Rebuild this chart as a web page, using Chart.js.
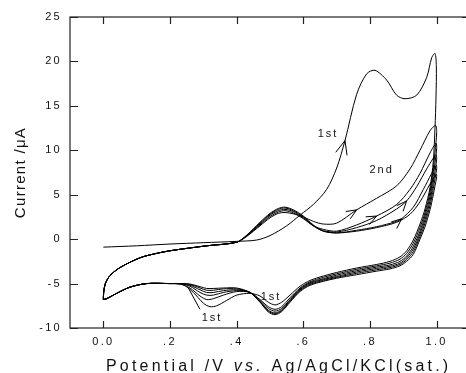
<!DOCTYPE html>
<html>
<head>
<meta charset="utf-8">
<script src="https://cdn.jsdelivr.net/npm/chart.js@4"></script>
<style>
html, body { margin: 0; padding: 0; background: #fff; overflow: hidden; }
#cv { display: block; }
</style>
</head>
<body>
<canvas id="cv" width="478" height="373"></canvas>
<script>
const FONT = '"Liberation Sans", Arial, sans-serif';

// axis ticks
let xTicks = [0, 0.2, 0.4, 0.6, 0.8, 1.0];
let xTickText = ['0.0', '.2', '.4', '.6', '.8', '1.0'];
let yTicks = [-10, -5, 0, 5, 10, 15, 20, 25];

// cycle 1: forward sweep from 0.0 V, then back
let c1V = [0.00, 0.10, 0.20, 0.30, 0.40, 0.46, 0.50, 0.55, 0.59, 0.63, 0.67, 0.70, 0.725, 0.76, 0.79, 0.815, 0.85, 0.88, 0.905, 0.94, 0.97, 0.985, 0.995,
    0.999, 0.998, 0.995, 0.99, 0.98, 0.965, 0.95, 0.93, 0.91, 0.89, 0.86, 0.82, 0.76, 0.70, 0.66, 0.62, 0.59, 0.56, 0.535, 0.515, 0.495, 0.47, 0.44, 0.40, 0.37, 0.34, 0.32, 0.30, 0.27, 0.24, 0.20, 0.13, 0.08, 0.04, 0.01, 0.0];
let c1I = [-0.9, -0.75, -0.55, -0.4, -0.25, -0.1, 0.4, 1.5, 2.7, 3.9, 5.6, 8.0, 11.1, 16.3, 18.6, 19.0, 17.9, 16.2, 15.8, 16.2, 18.2, 20.4, 20.9,
    19.5, 16.0, 12.5, 8.8, 5.8, 3.4, 1.7, -0.1, -1.3, -2.0, -2.5, -2.85, -3.25, -3.75, -4.15, -4.65, -5.3, -6.3, -7.1, -7.4, -7.1, -6.4, -6.1, -6.3, -6.9, -7.5, -7.6, -7.2, -6.0, -5.15, -5.0, -5.0, -5.4, -6.1, -6.7, -6.8];

// cycle 2
let c2V = [0.0, 0.001, 0.006, 0.02, 0.05, 0.11, 0.16, 0.21, 0.31, 0.40, 0.43, 0.47, 0.50, 0.525, 0.545, 0.57, 0.60, 0.63, 0.66, 0.70, 0.76, 0.82, 0.88, 0.92, 0.95, 0.98, 0.997,
    1.0, 0.995, 0.99, 0.98, 0.965, 0.95, 0.93, 0.91, 0.89, 0.86, 0.82, 0.76, 0.70, 0.66, 0.62, 0.59, 0.56, 0.535, 0.515, 0.495, 0.47, 0.44, 0.40, 0.36, 0.33, 0.31, 0.29, 0.26, 0.23, 0.20, 0.13, 0.08, 0.04, 0.01, 0.0];
let c2I = [-6.8, -6.0, -5.0, -4.1, -3.2, -2.1, -1.6, -1.25, -0.75, -0.35, 0.3, 1.5, 2.4, 2.9, 3.0, 2.85, 2.5, 2.0, 1.7, 1.8, 3.3, 4.6, 6.0, 7.9, 10.0, 12.2, 12.8,
    12.0, 9.8, 8.0, 5.3, 3.0, 1.3, -0.45, -1.6, -2.25, -2.7, -3.0, -3.4, -3.9, -4.3, -4.8, -5.5, -6.6, -7.6, -7.9, -7.6, -6.8, -6.0, -5.9, -6.3, -6.7, -6.8, -6.4, -5.5, -5.05, -5.0, -5.0, -5.4, -6.1, -6.7, -6.8];

// cycle 3
let c3V = [0.0, 0.001, 0.006, 0.02, 0.05, 0.11, 0.16, 0.21, 0.31, 0.40, 0.43, 0.47, 0.50, 0.525, 0.545, 0.57, 0.60, 0.63, 0.66, 0.70, 0.76, 0.82, 0.88, 0.92, 0.95, 0.98, 0.998,
    1.0, 0.995, 0.99, 0.98, 0.965, 0.95, 0.93, 0.91, 0.89, 0.86, 0.82, 0.76, 0.70, 0.66, 0.62, 0.59, 0.56, 0.535, 0.515, 0.495, 0.47, 0.44, 0.40, 0.36, 0.33, 0.31, 0.29, 0.26, 0.23, 0.20, 0.13, 0.08, 0.04, 0.01, 0.0];
let c3I = [-6.8, -6.0, -5.0, -4.1, -3.2, -2.1, -1.6, -1.25, -0.75, -0.35, 0.35, 1.6, 2.55, 3.05, 3.2, 2.95, 2.3, 1.5, 1.1, 0.9, 1.6, 2.6, 3.9, 5.6, 7.4, 9.7, 10.8,
    10.2, 8.6, 7.2, 4.8, 2.6, 0.9, -0.8, -1.9, -2.5, -2.9, -3.15, -3.55, -4.05, -4.45, -4.9, -5.6, -6.8, -7.8, -8.1, -7.8, -6.9, -6.0, -5.8, -6.0, -6.3, -6.3, -6.0, -5.3, -5.0, -5.0, -5.0, -5.4, -6.1, -6.7, -6.8];

// cycle 4
let c4V = [0.0, 0.001, 0.006, 0.02, 0.05, 0.11, 0.16, 0.21, 0.31, 0.40, 0.43, 0.47, 0.50, 0.525, 0.545, 0.57, 0.60, 0.63, 0.66, 0.70, 0.76, 0.82, 0.88, 0.91, 0.94, 0.97, 0.998,
    1.0, 0.995, 0.99, 0.98, 0.965, 0.95, 0.93, 0.91, 0.89, 0.86, 0.82, 0.76, 0.70, 0.66, 0.62, 0.59, 0.56, 0.535, 0.515, 0.495, 0.47, 0.44, 0.40, 0.36, 0.33, 0.31, 0.29, 0.26, 0.23, 0.20, 0.13, 0.08, 0.04, 0.01, 0.0];
let c4I = [-6.8, -6.0, -5.0, -4.1, -3.2, -2.1, -1.6, -1.25, -0.75, -0.35, 0.4, 1.7, 2.7, 3.2, 3.35, 3.1, 2.4, 1.5, 0.95, 0.8, 1.3, 2.1, 3.4, 4.3, 5.9, 7.9, 9.5,
    9.0, 7.6, 6.4, 4.3, 2.2, 0.6, -1.1, -2.1, -2.7, -3.05, -3.3, -3.7, -4.2, -4.55, -5.0, -5.7, -6.9, -7.95, -8.3, -8.0, -7.0, -6.0, -5.7, -5.8, -6.0, -6.0, -5.7, -5.2, -5.0, -5.0, -5.0, -5.4, -6.1, -6.7, -6.8];

// cycle 5
let c5V = [0.0, 0.001, 0.006, 0.02, 0.05, 0.11, 0.16, 0.21, 0.31, 0.40, 0.43, 0.47, 0.50, 0.525, 0.545, 0.57, 0.60, 0.63, 0.66, 0.70, 0.76, 0.82, 0.88, 0.895, 0.93, 0.96, 0.985, 0.999,
    1.0, 0.995, 0.99, 0.98, 0.965, 0.95, 0.93, 0.91, 0.89, 0.86, 0.82, 0.76, 0.70, 0.66, 0.62, 0.59, 0.56, 0.535, 0.515, 0.495, 0.47, 0.44, 0.40, 0.36, 0.33, 0.31, 0.29, 0.26, 0.23, 0.20, 0.13, 0.08, 0.04, 0.01, 0.0];
let c5I = [-6.8, -6.0, -5.0, -4.1, -3.2, -2.1, -1.6, -1.25, -0.75, -0.35, 0.4, 1.8, 2.8, 3.35, 3.5, 3.2, 2.5, 1.5, 0.9, 0.7, 1.0, 1.4, 2.0, 2.3, 3.6, 5.6, 7.4, 8.3,
    7.9, 6.8, 5.7, 3.8, 1.8, 0.3, -1.4, -2.3, -2.85, -3.2, -3.45, -3.85, -4.3, -4.65, -5.1, -5.8, -7.0, -8.05, -8.4, -8.1, -7.05, -6.0, -5.6, -5.6, -5.75, -5.75, -5.5, -5.1, -5.0, -5.0, -5.0, -5.4, -6.1, -6.7, -6.8];

// cycle 6
let c6V = [0.0, 0.001, 0.006, 0.02, 0.05, 0.11, 0.16, 0.21, 0.31, 0.40, 0.43, 0.47, 0.50, 0.525, 0.545, 0.57, 0.60, 0.63, 0.66, 0.70, 0.76, 0.82, 0.88, 0.92, 0.95, 0.98, 0.999,
    1.0, 0.995, 0.99, 0.98, 0.965, 0.95, 0.93, 0.91, 0.89, 0.86, 0.82, 0.76, 0.70, 0.66, 0.62, 0.59, 0.56, 0.535, 0.515, 0.495, 0.47, 0.44, 0.40, 0.36, 0.33, 0.31, 0.29, 0.26, 0.23, 0.20, 0.13, 0.08, 0.04, 0.01, 0.0];
let c6I = [-6.8, -6.0, -5.0, -4.1, -3.2, -2.1, -1.6, -1.25, -0.75, -0.35, 0.45, 1.9, 2.9, 3.45, 3.6, 3.3, 2.6, 1.6, 0.9, 0.7, 0.9, 1.3, 1.9, 2.8, 4.2, 6.2, 7.3,
    7.0, 6.0, 5.0, 3.3, 1.4, 0.0, -1.7, -2.5, -3.0, -3.35, -3.6, -4.0, -4.4, -4.75, -5.2, -5.9, -7.1, -8.15, -8.5, -8.2, -7.1, -6.0, -5.5, -5.5, -5.55, -5.55, -5.35, -5.05, -5.0, -5.0, -5.0, -5.4, -6.1, -6.7, -6.8];

// short pointer line near the 0.3 V wave
let pointerV = [0.255, 0.29];
let pointerI = [-5.5, -7.9];

// text in the plot
let noteText = ['1st', '2nd', '1st', '1st'];
let noteV = [0.671, 0.832, 0.50, 0.323];
let noteI = [11.8, 7.8, -6.5, -8.9];

// arrowheads on the forward sweeps (cycle index, potential of the point)
let arrowCycle = [0, 1, 2, 3, 4];
let arrowV = [0.725, 0.76, 0.82, 0.91, 0.895];

let xTitle = [['Potential /V ', ''], ['vs.', 'italic '], [' Ag/AgCl/KCl(sat.)', '']];
let yTitle = 'Current /\u03bcA';

const cycles = [[c1V, c1I], [c2V, c2I], [c3V, c3I], [c4V, c4I], [c5V, c5I], [c6V, c6I]];

const datasets = cycles.map(([v, cur]) => ({
    data: v.map((x, k) => ({ x: x, y: cur[k] })),
    showLine: true,
    borderColor: '#000',
    borderWidth: 1,
    pointRadius: 0,
    tension: 0.3,
    fill: false
}));
datasets.push({
    data: pointerV.map((x, k) => ({ x: x, y: pointerI[k] })),
    showLine: true,
    borderColor: '#000',
    borderWidth: 1,
    pointRadius: 0,
    tension: 0
});

// frame, inward ticks, arrows, notes and axis titles
Chart.register({
    id: 'cvDecor',
    beforeDraw: (chart) => {
        chart.ctx.letterSpacing = '2.3px';
    },
    afterDraw: (chart) => {
        const ctx = chart.ctx;
        const a = chart.chartArea;
        const xs = chart.scales.x;
        const ys = chart.scales.y;
        ctx.save();
        ctx.strokeStyle = '#222';
        ctx.lineWidth = 1.2;
        ctx.strokeRect(a.left, a.top, a.right - a.left, a.bottom - a.top);
        ctx.beginPath();
        xTicks.forEach(v => {
            const p = Math.round(xs.getPixelForValue(v)) + 0.5;
            ctx.moveTo(p, a.top); ctx.lineTo(p, a.top + 7);
            ctx.moveTo(p, a.bottom); ctx.lineTo(p, a.bottom - 7);
        });
        yTicks.forEach(v => {
            const p = Math.round(ys.getPixelForValue(v)) + 0.5;
            ctx.moveTo(a.left, p); ctx.lineTo(a.left + 8, p);
            ctx.moveTo(a.right, p); ctx.lineTo(a.right - 8, p);
        });
        ctx.stroke();

        // arrowheads
        ctx.strokeStyle = '#000';
        ctx.lineWidth = 1;
        arrowCycle.forEach((c, n) => {
            const k = cycles[c][0].indexOf(arrowV[n]);
            const pts = chart.getDatasetMeta(c).data;
            const p = pts[k], p0 = pts[k - 1], p1 = pts[k + 1];
            const ang = Math.atan2(p1.y - p0.y, p1.x - p0.x);
            const len = n === 0 ? 15 : 11;
            ctx.beginPath();
            [-1, 1].forEach(s => {
                ctx.moveTo(p.x, p.y);
                ctx.lineTo(p.x - len * Math.cos(ang + s * 0.4), p.y - len * Math.sin(ang + s * 0.4));
            });
            ctx.stroke();
        });

        // notes
        ctx.fillStyle = '#111';
        ctx.font = '11px ' + FONT;
        ctx.letterSpacing = '2px';
        ctx.textAlign = 'center';
        ctx.textBaseline = 'middle';
        noteText.forEach((t, n) => {
            ctx.fillText(t, xs.getPixelForValue(noteV[n]) + 1, ys.getPixelForValue(noteI[n]));
        });

        // x title with italic "vs."
        ctx.textAlign = 'left';
        ctx.textBaseline = 'alphabetic';
        ctx.letterSpacing = '3.2px';
        let tx = a.left + 36;
        xTitle.forEach(([t, st]) => {
            ctx.font = st + '16px ' + FONT;
            ctx.fillText(t, tx, 371);
            tx += ctx.measureText(t).width;
        });

        // y title
        ctx.translate(25, (a.top + a.bottom) / 2);
        ctx.rotate(-Math.PI / 2);
        ctx.font = '15px ' + FONT;
        ctx.letterSpacing = '1.3px';
        ctx.textAlign = 'center';
        ctx.fillText(yTitle, 0, 0);
        ctx.restore();
    }
});

const chart = new Chart(document.getElementById('cv').getContext('2d'), {
    type: 'scatter',
    data: { datasets: datasets },
    options: {
        responsive: false,
        animation: false,
        layout: { padding: { top: 17, right: 8, left: 0, bottom: 0 } },
        plugins: { legend: { display: false }, tooltip: { enabled: false } },
        scales: {
            x: {
                type: 'linear',
                min: -0.1,
                max: 1.1,
                grid: { display: false, drawTicks: false },
                border: { display: false },
                afterBuildTicks: (s) => { s.ticks = xTicks.map(v => ({ value: v })); },
                afterFit: (s) => { s.height = 45; },
                ticks: {
                    autoSkip: false,
                    maxRotation: 0,
                    padding: 7,
                    color: '#111',
                    font: { family: FONT, size: 11 },
                    callback: (v, i) => xTickText[i]
                }
            },
            y: {
                type: 'linear',
                min: -10,
                max: 25,
                grid: { display: false, drawTicks: false },
                border: { display: false },
                afterBuildTicks: (s) => { s.ticks = yTicks.map(v => ({ value: v })); },
                afterFit: (s) => { s.width = 70; },
                ticks: {
                    autoSkip: false,
                    padding: 8,
                    color: '#111',
                    font: { family: FONT, size: 11 },
                    callback: (v) => String(v)
                }
            }
        }
    }
});
</script>
</body>
</html>
